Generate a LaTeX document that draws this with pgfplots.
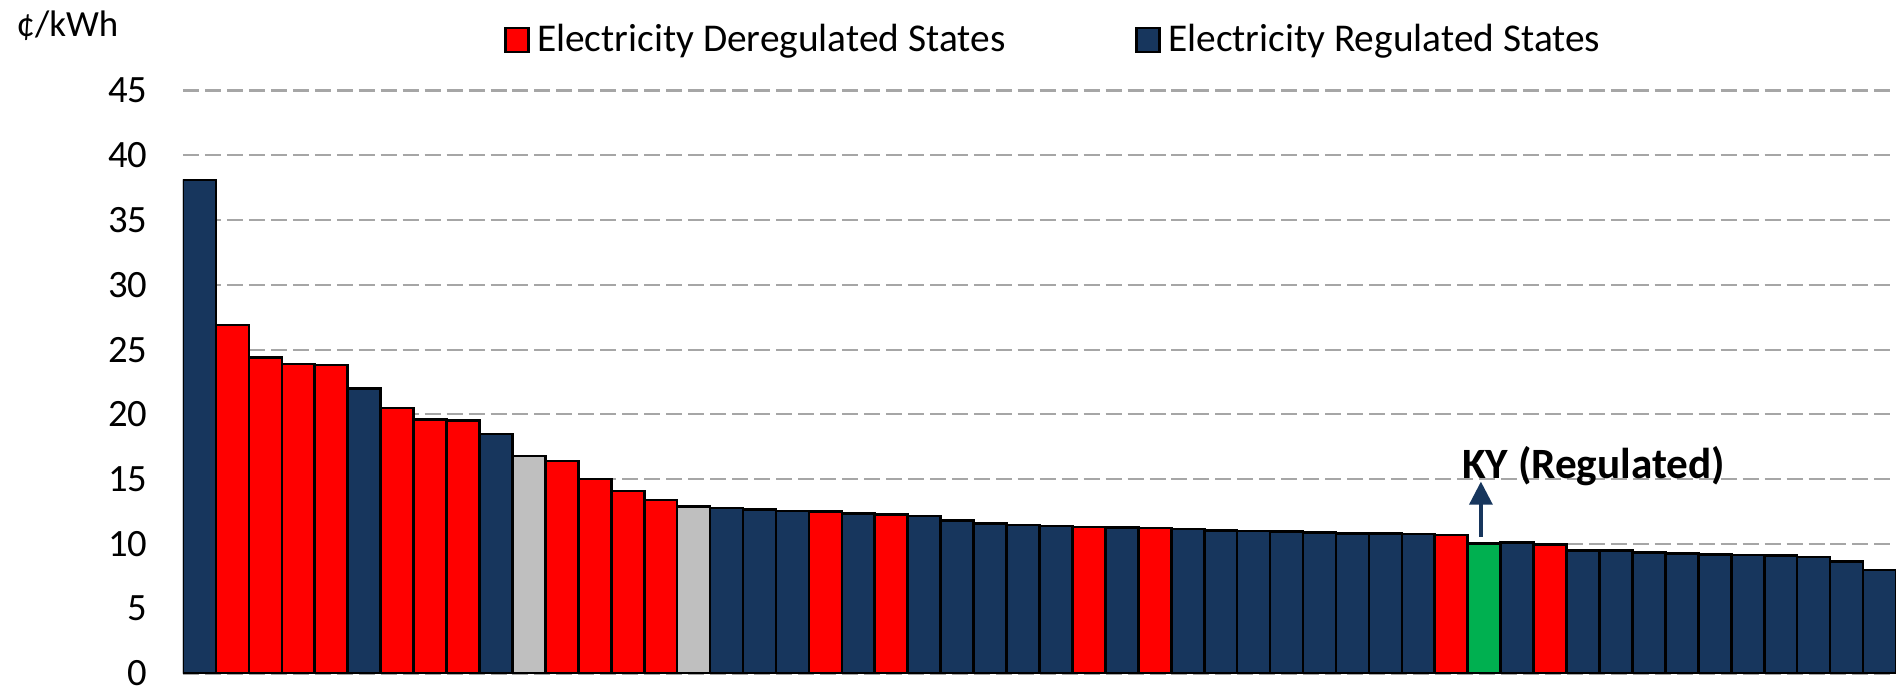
\documentclass[border=0pt]{standalone}
\usepackage{fontspec}
\setmainfont{Carlito}
\usepackage{pgfplots}
\pgfplotsset{compat=1.18}
\usetikzlibrary{arrows.meta}

\definecolor{navybar}{HTML}{17365D}
\definecolor{redbar}{HTML}{FF0000}
\definecolor{graybar}{HTML}{BFBFBF}
\definecolor{greenbar}{HTML}{00B050}
\definecolor{gridgray}{HTML}{A6A6A6}

\begin{document}
\begin{tikzpicture}
\useasboundingbox (-1.83cm,-0.135cm) rectangle (17.13cm,6.735cm);
\begin{axis}[
    at={(0,0)}, anchor=south west,
    scale only axis,
    width=17.13cm, height=5.83cm,
    xmin=-0.5, xmax=51.5,
    ymin=0, ymax=45,
    ytick={0,5,...,45},
    xtick=\empty,
    axis line style={draw=none},
    major tick length=0pt,
    ymajorgrids,
    major grid style={gridgray, line width=0.6pt, dash pattern=on 4.55pt off 1.7pt},
    /pgf/number format/assume math mode=true,
    yticklabel style={font=\fontsize{11}{13}\selectfont, inner sep=0pt, xshift=-3.5mm},
    bars/.style={ybar, bar shift=0pt, bar width=1, draw=black, line width=0.75pt,
        legend image code/.code={\draw[##1, line width=0.8pt] (0mm,-1.2mm) rectangle (2.3mm,1.2mm);}},
    legend columns=2,
    legend style={at={(0.181,1.0866)}, anchor=west, draw=none, fill=none,
        font=\fontsize{11.2}{13}\selectfont,
        /tikz/every even column/.append style={column sep=12.3mm}},
]
% deregulated states
\addplot[bars, fill=redbar] coordinates {
    (1,26.9) (2,24.4) (3,23.9) (4,23.8) (6,20.5) (7,19.6) (8,19.55)
    (11,16.4) (12,15.0) (13,14.1) (14,13.4) (19,12.5) (21,12.26)
    (27,11.3) (29,11.22) (38,10.7) (41,9.97)
};
\addlegendentry{Electricity Deregulated States}
% regulated states
\addplot[bars, fill=navybar] coordinates {
    (0,38.1) (5,22.0) (9,18.5) (16,12.77) (17,12.67) (18,12.53) (20,12.33)
    (22,12.16) (23,11.8) (24,11.59) (25,11.45) (26,11.39) (28,11.28)
    (30,11.15) (31,11.05) (32,11.0) (33,10.95) (34,10.9) (35,10.82)
    (36,10.8) (37,10.78) (40,10.1) (42,9.5) (43,9.48) (44,9.36)
    (45,9.26) (46,9.19) (47,9.16) (48,9.09) (49,8.99) (50,8.65) (51,8.0)
};
\addlegendentry{Electricity Regulated States}
% other
\addplot[bars, fill=graybar, forget plot] coordinates {(10,16.8) (15,12.9)};
% Kentucky
\addplot[bars, fill=greenbar, forget plot] coordinates {(39,10.05)};

\draw[navybar, line width=0.9pt, -{Triangle[width=2.3mm,length=2.3mm]}]
    (axis cs:38.9,10.54) -- (axis cs:38.9,14.81);
\node[font=\bfseries\fontsize{12.3}{14}\selectfont, anchor=base, inner sep=0pt]
    at (axis cs:42.32,15.02) {KY (Regulated)};
\end{axis}
\node[font=\fontsize{10.5}{12}\selectfont, anchor=base, inner sep=0pt] at (-1.155cm,6.365cm) {¢/kWh};
\end{tikzpicture}
\end{document}
